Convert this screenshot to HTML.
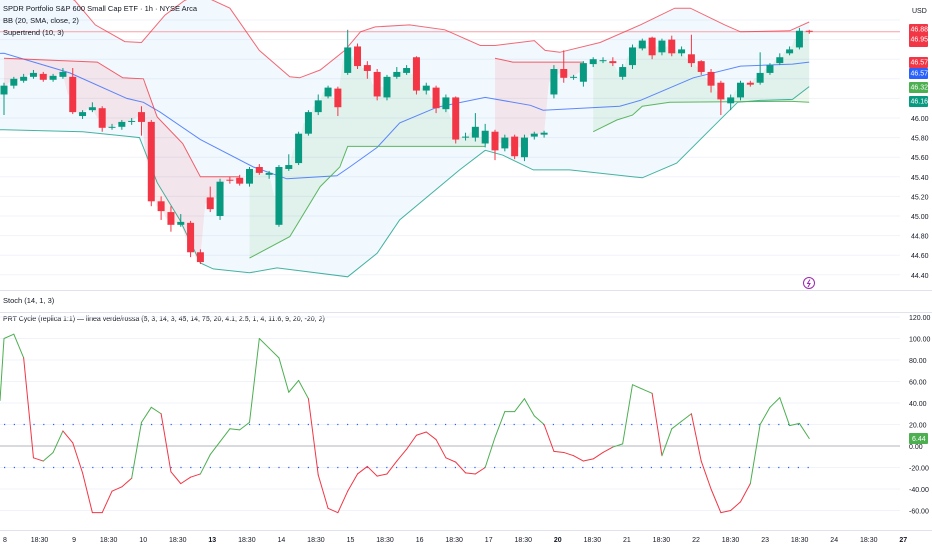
<!DOCTYPE html>
<html><head><meta charset="utf-8"><style>
html,body{margin:0;padding:0;background:#fff;width:932px;height:550px;overflow:hidden}
svg{display:block;font-family:"Liberation Sans",sans-serif}
</style></head><body>
<svg id="c" width="932" height="550" xmlns="http://www.w3.org/2000/svg"></svg>
<script>
// ---- Price data (per candle) ----
const opens=[46.24,46.33,46.38,46.42,46.45,46.39,46.42,46.42,46.02,46.08,46.10,45.90,45.91,45.96,46.06,45.96,45.15,45.04,44.91,44.93,44.63,45.19,45.00,45.37,45.39,45.33,45.50,45.42,44.91,45.48,45.54,45.84,46.06,46.22,46.30,46.46,46.73,46.54,46.47,46.21,46.42,46.46,46.62,46.28,46.31,46.09,46.21,45.80,45.80,45.74,45.86,45.69,45.81,45.60,45.81,45.83,46.24,46.50,46.41,46.37,46.55,46.58,46.58,46.42,46.54,46.71,46.82,46.67,46.80,46.66,46.65,46.58,46.47,46.36,46.15,46.21,46.36,46.36,46.46,46.56,46.66,46.72,46.89];
const closes=[46.33,46.40,46.42,46.46,46.39,46.43,46.47,46.06,46.06,46.11,45.90,45.91,45.96,45.97,45.96,45.15,45.05,44.91,44.94,44.63,44.53,45.07,45.35,45.36,45.33,45.48,45.44,45.44,45.50,45.52,45.84,46.06,46.18,46.31,46.11,46.72,46.53,46.48,46.22,46.42,46.47,46.51,46.28,46.33,46.10,46.21,45.78,45.81,45.91,45.87,45.67,45.80,45.61,45.80,45.84,45.85,46.50,46.41,46.42,46.56,46.60,46.59,46.56,46.52,46.72,46.79,46.64,46.79,46.66,46.70,46.56,46.47,46.33,46.19,46.21,46.36,46.34,46.46,46.54,46.62,46.70,46.89,46.88];
const highs=[46.36,46.42,46.45,46.49,46.47,46.45,46.51,46.51,46.08,46.16,46.12,45.94,45.98,46.00,46.12,45.98,45.20,45.10,45.02,44.95,44.66,45.30,45.38,45.40,45.42,45.50,45.53,45.46,45.52,45.63,45.86,46.08,46.24,46.33,46.32,46.90,46.76,46.58,46.50,46.44,46.52,46.54,46.63,46.36,46.33,46.24,46.22,45.85,46.05,45.94,45.88,45.83,45.83,45.83,45.86,45.87,46.54,46.69,46.44,46.58,46.62,46.62,46.62,46.55,46.75,46.81,46.83,46.81,46.84,46.73,46.85,46.59,46.50,46.38,46.24,46.38,46.38,46.67,46.56,46.66,46.73,46.92,46.90];
const lows=[46.03,46.30,46.36,46.40,46.37,46.37,46.40,46.04,45.99,46.06,45.86,45.88,45.88,45.93,45.82,45.10,44.96,44.84,44.89,44.58,44.51,45.04,44.96,45.33,45.31,45.30,45.42,45.38,44.89,45.46,45.52,45.82,46.03,46.20,46.02,46.44,46.50,46.40,46.18,46.18,46.40,46.44,46.24,46.24,46.05,46.06,45.74,45.77,45.76,45.70,45.57,45.66,45.58,45.56,45.78,45.80,46.20,46.36,46.39,46.32,46.52,46.56,46.53,46.39,46.50,46.69,46.60,46.64,46.63,46.63,46.52,46.44,46.26,46.03,46.08,46.18,46.32,46.34,46.44,46.54,46.64,46.70,46.86];
// Bollinger bands control points (candle index, price)
const upperIdx=[0,7.2,9.3,12.3,14,16.4,18.4,20,23,26,29.1,30.1,32.2,34.7,36.3,37.8,41.3,44.9,48.5,50,54,55.1,56.6,60.7,64.8,68.3,69.9,73.4,75,80,82];
const upperVal=[47.56,47.20,46.95,46.78,46.77,47.05,47.20,47.26,47.12,46.69,46.42,46.41,46.49,46.69,46.88,46.93,46.95,46.90,46.74,46.74,46.79,46.69,46.67,46.77,46.95,47.12,47.12,46.95,46.88,46.89,46.98];
const basisIdx=[0,4.7,6.7,12.5,14.2,15.9,20,25.4,28.8,33.9,35.2,38,40.3,44.1,49,53.6,54.9,62.7,64.8,70.2,75,80.3,82];
const basisVal=[46.66,46.52,46.46,46.20,46.16,46.06,45.78,45.50,45.38,45.41,45.50,45.70,45.95,46.11,46.21,46.13,46.08,46.12,46.18,46.41,46.53,46.55,46.57];
const lowerIdx=[0,8,13.8,15.6,17.9,20,21.3,25,27.8,35,38,40.3,46.4,49,50.8,53.9,57.6,65,68.5,72.2,74.7,77,80.3,82];
const lowerVal=[45.88,45.86,45.80,45.34,44.96,44.52,44.46,44.42,44.47,44.38,44.62,44.96,45.47,45.67,45.62,45.47,45.47,45.39,45.54,45.91,46.16,46.18,46.19,46.32];
// Supertrend segments
const stDownIdx=[[0,9.5,12.1,14.2,15.6,18.2,20,24],[50,51.8,59]];
const stDownVal=[[46.61,46.57,46.41,46.40,46.01,45.74,45.40,45.40],[46.61,46.57,46.57]];
const stUpIdx=[[25,29.1,32.2,34.2,35,49],[60,62.4,64,65,67.8,80,82]];
const stUpVal=[[44.57,44.79,45.30,45.50,45.71,45.71],[45.86,45.98,46.03,46.12,46.16,46.17,46.16]];
// Oscillator
const oscVals=[100,104,82,-11,-14,-6,14,3,-25,-62,-62,-42,-38,-30,22,36,30,-24,-35,-29,-26,-8,4,16,15,22,100,91,82,50,61,44,-27,-58,-62,-42,-26,-19,-28,-26,-14,-3,10,13,6,-11,-15,-25,-26,-20,8,32,32,44,28,20,-5,-6,-9,-14,-12,-6,-1,2,57,53,49,-9,16,23,30,-14,-40,-62,-60,-52,-35,20,36,45,19,21,7];
// line state per segment (g = verde, r = rossa), segment k ends at point k
const oscState="_"+"gg"+"rr"+"gg"+"rrrrrrr"+"ggg"+"rrrr"+"ggggggggggg"+"rrrrrrrrrrrrrrrrrr"+"gggggg"+"rrrrrrr"+"gggg"+"r"+"ggg"+"rrrrrr"+"gggggg";
const priceTicks=[46.00,45.80,45.60,45.40,45.20,45.00,44.80,44.60,44.40];
const oscTicks=[120,100,80,60,40,20,0,-20,-40,-60];
const dayLabels=["8","18:30","9","18:30","10","18:30","13","18:30","14","18:30","15","18:30","16","18:30","17","18:30","20","18:30","21","18:30","22","18:30","23","18:30","24","18:30","27"];

const NS="http://www.w3.org/2000/svg";
const svg=document.getElementById('c');
const X0=4,DX=9.82;
const xi=i=>X0+DX*i;
const yp=p=>118+(46-p)*98;
const yo=v=>446-v*1.075;
function el(t,a,parent){const e=document.createElementNS(NS,t);for(const k in a)e.setAttribute(k,a[k]);(parent||svg).appendChild(e);return e;}
function interp(idx,val,i){if(i<=idx[0])return val[0];for(let k=1;k<idx.length;k++){if(i<=idx[k]){const t=(i-idx[k-1])/(idx[k]-idx[k-1]);return val[k-1]+t*(val[k]-val[k-1]);}}return val[val.length-1];}
function pts(idx,val){return idx.map((d,k)=>xi(d).toFixed(1)+','+yp(val[k]).toFixed(1)).join(' ');}

const defs=el('defs',{});
const cp=el('clipPath',{id:'pc'},defs);el('rect',{x:0,y:0,width:900,height:290},cp);
const gP=el('g',{'clip-path':'url(#pc)'});



priceTicks.forEach(p=>{const l=el('line',{x1:0,x2:900,y1:yp(p),y2:yp(p),stroke:'#f0f3fa','stroke-width':1},gP);

});
[yp(46.8),yp(46.6),yp(46.4),yp(46.2),yp(47.0)].forEach(y=>{el('line',{x1:0,x2:900,y1:y,y2:y,stroke:'#f0f3fa'},gP);});

{let top=[],bot=[];for(let i=0;i<=82;i+=0.5){top.push(xi(i).toFixed(1)+','+yp(interp(upperIdx,upperVal,i)).toFixed(1));bot.unshift(xi(i).toFixed(1)+','+yp(interp(lowerIdx,lowerVal,i)).toFixed(1));}
const f=el('polygon',{points:'0,'+yp(upperVal[0])+' '+top.join(' ')+' '+bot.join(' ')+' 0,'+yp(lowerVal[0]),fill:'rgba(33,150,243,0.06)'},gP);

}

function stFill(idx,val,color,name){let a=[],b=[];const s=idx[0],e=idx[idx.length-1];for(let i=s;i<=e+1e-6;i+=0.5){const ii=Math.min(82,Math.round(i));const mid=(opens[ii]+closes[ii])/2;a.push(xi(i).toFixed(1)+','+yp(interp(idx,val,i)).toFixed(1));b.unshift(xi(i).toFixed(1)+','+yp(mid).toFixed(1));}
const f=el('polygon',{points:a.join(' ')+' '+b.join(' '),fill:color},gP);

}
stDownIdx.forEach((s,k)=>stFill(s,stDownVal[k],'rgba(242,54,69,0.10)','supertrend-down-fill'));
stUpIdx.forEach((s,k)=>stFill(s,stUpVal[k],'rgba(76,175,80,0.10)','supertrend-up-fill'));

{const l=el('line',{x1:0,x2:900,y1:yp(closes[82]),y2:yp(closes[82]),stroke:'#f7a1a8','stroke-width':1},gP);

}

{let l=el('polyline',{points:'0,'+yp(upperVal[0])+' '+pts(upperIdx,upperVal),fill:'none',stroke:'#f23645','stroke-width':1,opacity:0.75},gP);


l=el('polyline',{points:'0,'+yp(basisVal[0])+' '+pts(basisIdx,basisVal),fill:'none',stroke:'#2962ff','stroke-width':1,opacity:0.75},gP);


l=el('polyline',{points:'0,'+yp(lowerVal[0])+' '+pts(lowerIdx,lowerVal),fill:'none',stroke:'#089981','stroke-width':1,opacity:0.75},gP);

}
stDownIdx.forEach((s,k)=>{const l=el('polyline',{points:pts(s,stDownVal[k]),fill:'none',stroke:'#f23645','stroke-width':1,opacity:0.8},gP);

});
stUpIdx.forEach((s,k)=>{const l=el('polyline',{points:pts(s,stUpVal[k]),fill:'none',stroke:'#4caf50','stroke-width':1,opacity:0.9},gP);

});

for(let i=0;i<opens.length;i++){const up=closes[i]>=opens[i];const col=up?'#089981':'#f23645';const x=xi(i);
const g=el('g',{},gP);


el('line',{x1:x,x2:x,y1:yp(highs[i]),y2:yp(lows[i]),stroke:col,'stroke-width':1},g);
const t=yp(Math.max(opens[i],closes[i])),b=yp(Math.min(opens[i],closes[i]));
el('rect',{x:x-3.5,y:t,width:7,height:Math.max(1,b-t),fill:col},g);}

{const g=el('g',{});
el('circle',{cx:809,cy:283,r:5.5,fill:'#fff',stroke:'#9c27b0','stroke-width':1},g);
el('path',{d:'M810,279.5 L807.5,283.5 L810,283.5 L808,287',fill:'none',stroke:'#9c27b0','stroke-width':1},g);}

[290.5,312.5].forEach(y=>{const l=el('line',{x1:0,x2:932,y1:y,y2:y,stroke:'#e0e3eb','stroke-width':1});

});

function txt(x,y,s,attrs,name,inter){const t=el('text',Object.assign({x:x,y:y,'font-size':'8px',fill:'#131722'},attrs||{}));t.textContent=s;

return t;}
txt(3,11,'SPDR Portfolio S&P 600 Small Cap ETF · 1h · NYSE Arca',{'font-size':'7.5px'},'symbol-title',false);
txt(3,23,'BB (20, SMA, close, 2)',{'font-size':'7.5px'},'bb-legend',true);
txt(3,35,'Supertrend (10, 3)',{'font-size':'7.5px'},'supertrend-legend',true);
txt(3,303,'Stoch (14, 1, 3)',{'font-size':'7.5px'},'stoch-legend',true);
txt(3,321,'PRT Cycle (replica 1:1) — linea verde/rossa (5, 3, 14, 3, 45, 14, 75, 20, 4.1, 2.5, 1, 4, 11.6, 9, 20, -20, 2)',{'font-size':'7px'},'prt-cycle-legend',true);

txt(912,13,'USD',{'font-size':'7px'},'currency-label',false);
priceTicks.forEach(p=>txt(911,yp(p)+3,p.toFixed(2),{'font-size':'7px'},'price-tick',false));
function tag(y,h,col,lines,name){const g=el('g',{});
el('rect',{x:909,y:y,width:19,height:h,fill:col,rx:1},g);
lines.forEach((s,k)=>{const t=el('text',{x:910.5,y:y+7.5+k*10,'font-size':'7px',fill:'#fff'},g);t.textContent=s;});}
tag(24,23,'#f23645',['46.88','46.95'],'last-price-tag');
tag(57,11,'#f23645',['46.57'],'supertrend-down-tag');
tag(68,11,'#2962ff',['46.57'],'bb-basis-tag');
tag(82,11,'#4caf50',['46.32'],'bb-lower-tag');
tag(96,11,'#089981',['46.16'],'supertrend-up-tag');

oscTicks.forEach(v=>{if(v!==0){const l=el('line',{x1:0,x2:900,y1:yo(v),y2:yo(v),stroke:'#f0f3fa'});

}
txt(909,yo(v)+3,v.toFixed(2),{'font-size':'7px'},'osc-tick',false);});
{const l=el('line',{x1:0,x2:900,y1:yo(0),y2:yo(0),stroke:'#b2b5be','stroke-width':1});

}
[20,-20].forEach(v=>{const l=el('line',{x1:xi(0),x2:xi(82),y1:yo(v),y2:yo(v),stroke:'#2962ff','stroke-width':1.2,'stroke-dasharray':'1.2 8.6'});

});
{const l=el('line',{x1:0,x2:xi(0),y1:yo(42),y2:yo(oscVals[0]),stroke:'#4caf50','stroke-width':1});

}
for(let i=1;i<oscVals.length;i++){const up=oscState.charAt(i)==='g';
const l=el('line',{x1:xi(i-1),y1:yo(oscVals[i-1]),x2:xi(i),y2:yo(oscVals[i]),stroke:up?'#4caf50':'#f23645','stroke-width':1,'stroke-linecap':'round'});

}
{const g=el('g',{});
el('rect',{x:909,y:433,width:19,height:11,fill:'#4caf50',rx:1},g);
const t=el('text',{x:912,y:441,'font-size':'7px',fill:'#fff'},g);t.textContent='6.44';}

dayLabels.forEach((s,k)=>{const x=5+k*34.55;const bold=(s==='13'||s==='20'||s==='27');
txt(x,542,s,{'font-size':'7px','text-anchor':'middle','font-weight':bold?'bold':'normal'},'time-tick',false);});
{const l=el('line',{x1:0,x2:932,y1:530.5,y2:530.5,stroke:'#e0e3eb'});}
</script>
</body></html>
